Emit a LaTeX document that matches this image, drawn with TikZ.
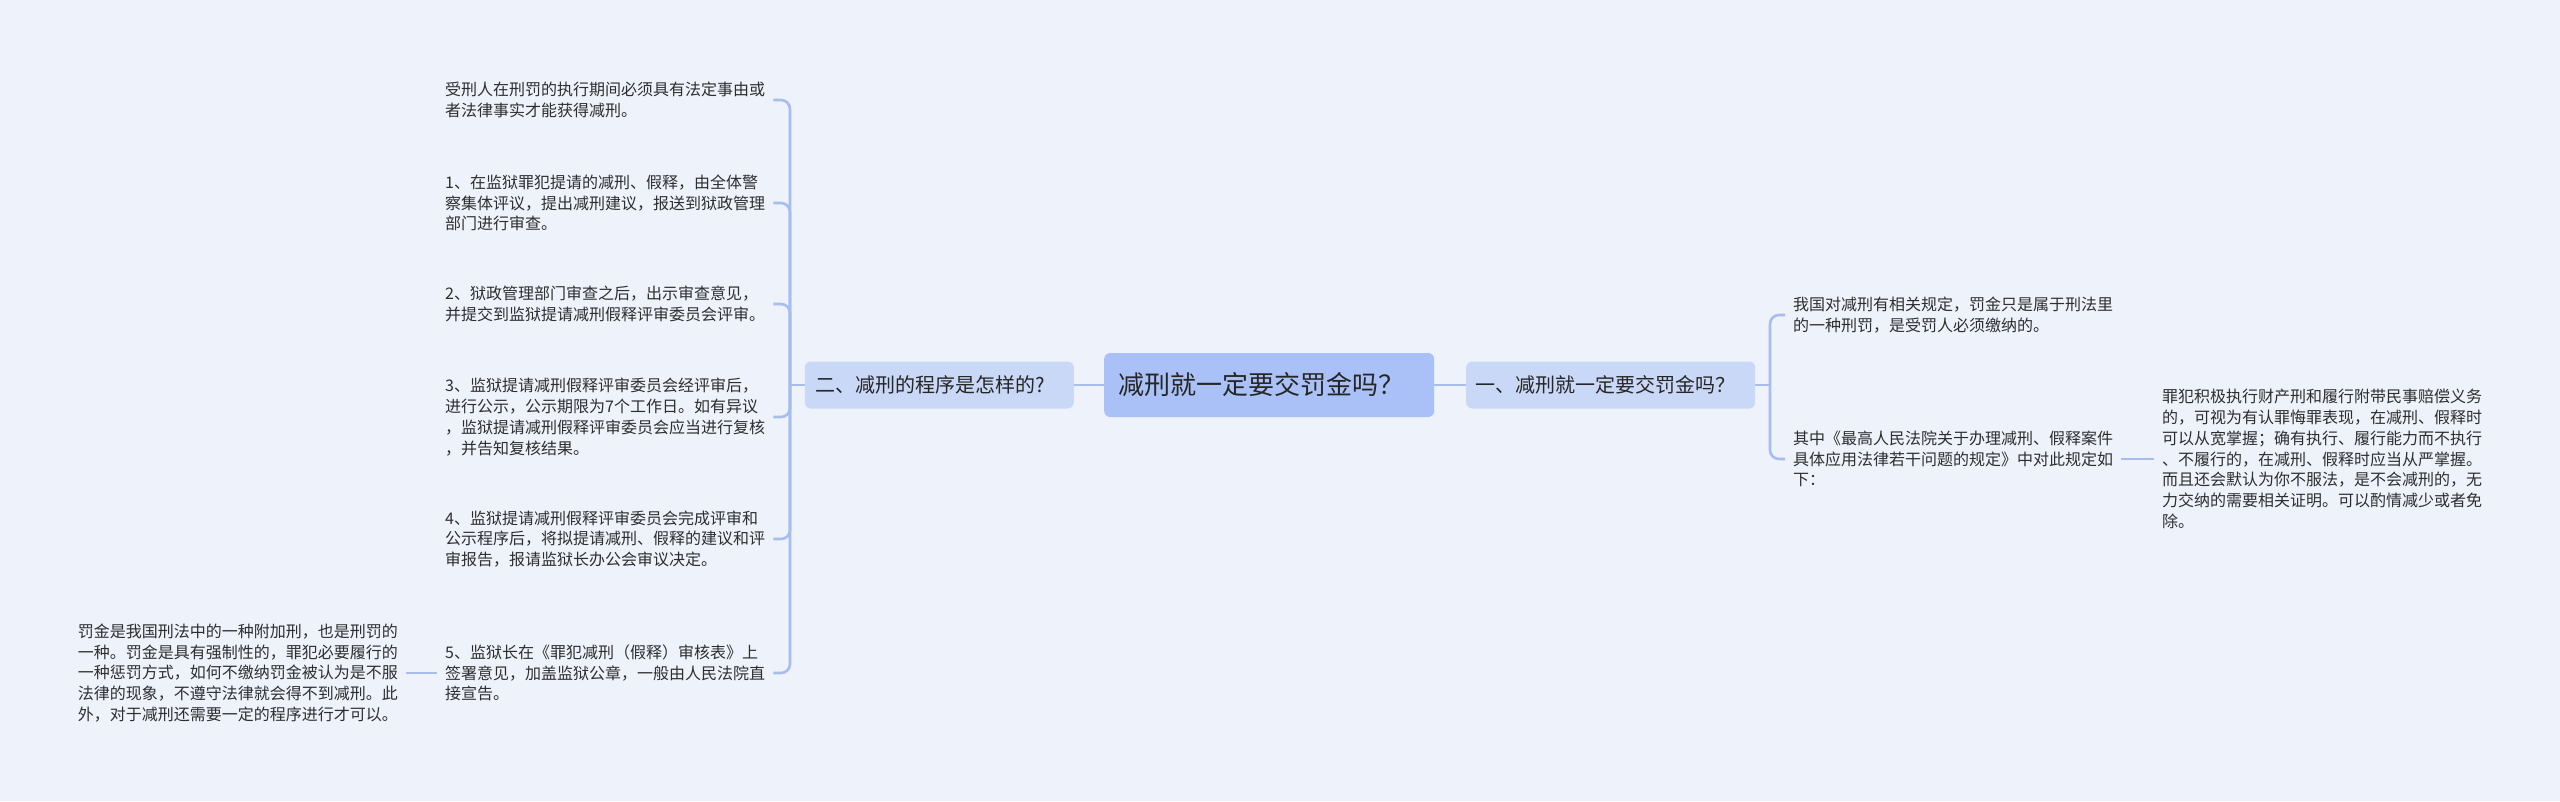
\documentclass[tikz,border=0pt]{standalone}
\usepackage{fontspec}
\setmainfont{Noto Sans CJK SC}
\definecolor{bgc}{HTML}{EEF2FB}
\definecolor{rootc}{HTML}{A9C1F6}
\definecolor{lvlc}{HTML}{CAD8F8}
\definecolor{linec}{HTML}{A6BDEE}
\definecolor{txt}{HTML}{2E2E2E}
\tikzset{
  conn/.style={draw=linec, line width=2.6pt},
  curvedconn/.style={conn, rounded corners=9pt},
  leaf/.style={inner xsep=8pt, inner ysep=3pt, align=left, text=txt, font=\fontsize{16}{20.8}\selectfont},
  rootbox/.style={fill=rootc, rounded corners=6pt, text=black!85, align=left, font=\fontsize{26}{30}\selectfont},
  lvlbox/.style={fill=lvlc, rounded corners=6pt, text=black!85, align=left, font=\fontsize{20}{24}\selectfont}
}
\begin{document}
\begin{tikzpicture}[x=1pt,y=-1pt]
\fill[bgc] (0,0) rectangle (2560,801);
\useasboundingbox (0,0) rectangle (2560,801);

% main nodes
\node[rootbox, anchor=west, minimum height=64pt, text width=302pt, inner xsep=14pt] (root) at (1104,385) {减刑就一定要交罚金吗？};
\node[lvlbox, anchor=east, minimum height=47pt, text width=247pt, inner xsep=11pt] (two) at (1074,385) {二、减刑的程序是怎样的?};
\node[lvlbox, anchor=west, minimum height=47pt, text width=271pt, inner xsep=9pt] (one) at (1466,385) {一、减刑就一定要交罚金吗？};

% left leaves
\node[leaf, anchor=west] (l1) at (437,100) {受刑人在刑罚的执行期间必须具有法定事由或\\者法律事实才能获得减刑。};
\node[leaf, anchor=west] (l2) at (437,203) {1、在监狱罪犯提请的减刑、假释，由全体警\\察集体评议，提出减刑建议，报送到狱政管理\\部门进行审查。};
\node[leaf, anchor=west] (l3) at (437,304) {2、狱政管理部门审查之后，出示审查意见，\\并提交到监狱提请减刑假释评审委员会评审。};
\node[leaf, anchor=west] (l4) at (437,417) {3、监狱提请减刑假释评审委员会经评审后，\\进行公示，公示期限为7个工作日。如有异议\\，监狱提请减刑假释评审委员会应当进行复核\\，并告知复核结果。};
\node[leaf, anchor=west] (l5) at (437,539) {4、监狱提请减刑假释评审委员会完成评审和\\公示程序后，将拟提请减刑、假释的建议和评\\审报告，报请监狱长办公会审议决定。};
\node[leaf, anchor=west] (l6) at (437,673) {5、监狱长在《罪犯减刑（假释）审核表》上\\签署意见，加盖监狱公章，一般由人民法院直\\接宣告。};
\node[leaf, anchor=east] (l7) at (406,673) {罚金是我国刑法中的一种附加刑，也是刑罚的\\一种。罚金是具有强制性的，罪犯必要履行的\\一种惩罚方式，如何不缴纳罚金被认为是不服\\法律的现象，不遵守法律就会得不到减刑。此\\外，对于减刑还需要一定的程序进行才可以。};

% right leaves
\node[leaf, anchor=west] (ra) at (1785,315) {我国对减刑有相关规定，罚金只是属于刑法里\\的一种刑罚，是受罚人必须缴纳的。};
\node[leaf, anchor=west] (rb) at (1785,459) {其中《最高人民法院关于办理减刑、假释案件\\具体应用法律若干问题的规定》中对此规定如\\下：};
\node[leaf, anchor=west] (rc) at (2154,459) {罪犯积极执行财产刑和履行附带民事赔偿义务\\的，可视为有认罪悔罪表现，在减刑、假释时\\可以从宽掌握；确有执行、履行能力而不执行\\、不履行的，在减刑、假释时应当从严掌握。\\而且还会默认为你不服法，是不会减刑的，无\\力交纳的需要相关证明。可以酌情减少或者免\\除。};

% junctions
\coordinate (lj) at (790,385);
\coordinate (rj) at (1770,385);

% connectors
\draw[conn] (root.west) -- (two.east);
\draw[conn] (root.east) -- (one.west);
\draw[conn] (two.west) -- (lj);
\draw[conn] (one.east) -- (rj);
\foreach \n in {l1,l2,l3,l4,l5,l6} {
  \draw[curvedconn] (lj) |- (\n.east);
}
\foreach \n in {ra,rb} {
  \draw[curvedconn] (rj) |- (\n.west);
}
\draw[conn] (l6.west) -- (l7.east);
\draw[conn] (rb.east) -- (rc.west);
\end{tikzpicture}
\end{document}
